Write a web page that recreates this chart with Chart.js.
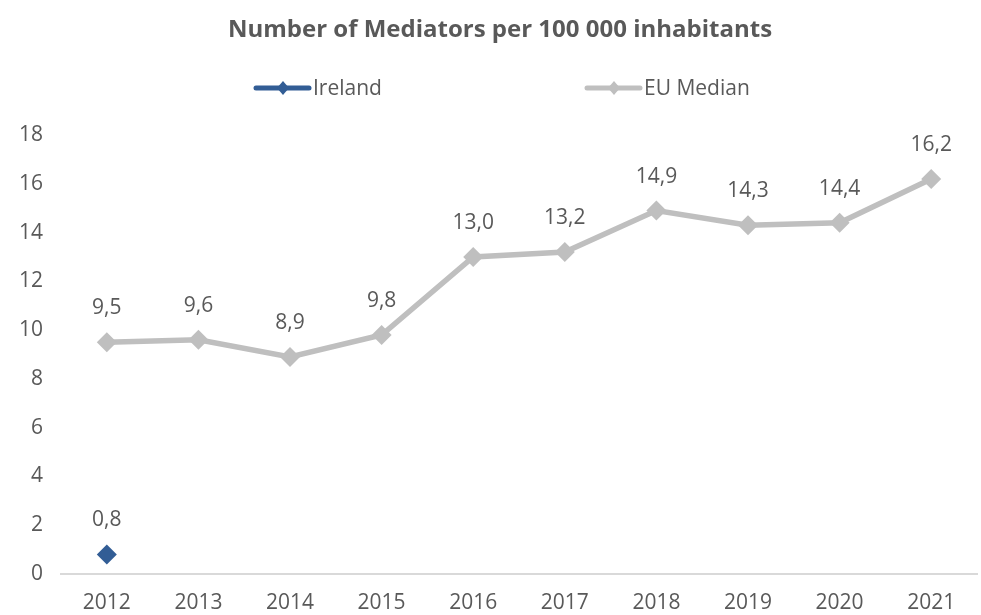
<!DOCTYPE html>
<html>
<head>
<meta charset="utf-8">
<script src="https://cdn.jsdelivr.net/npm/chart.js@4/dist/chart.umd.min.js"></script>
<style>
  html, body { margin: 0; padding: 0; background: #fff; overflow: hidden; }
  #wrap { width: 981px; height: 615px; position: relative; }
  canvas { display: block; }
</style>
</head>
<body>
<div id="wrap"><canvas id="mediatorsChart"></canvas></div>
<script>
// chart data
const years = ['2012', '2013', '2014', '2015', '2016', '2017', '2018', '2019', '2020', '2021'];
const irelandValues = [0.8, null, null, null, null, null, null, null, null, null];
const euMedianValues = [9.5, 9.6, 8.9, 9.8, 13.0, 13.2, 14.9, 14.3, 14.4, 16.2];
const yTicks = [0, 2, 4, 6, 8, 10, 12, 14, 16, 18];
const chartTitle = 'Number of Mediators per 100 000 inhabitants';

const textColor = '#595959';
const fontFamily = '"Open Sans", "Noto Sans", sans-serif';
const irelandColor = '#325d95';
const euColor = '#bfbfbf';

// labels above points, decimal comma
const pointLabels = {
  id: 'pointLabels',
  afterDatasetsDraw(chart) {
    const c = chart.ctx;
    c.save();
    c.font = '21px ' + fontFamily;
    c.fillStyle = textColor;
    c.textAlign = 'center';
    c.textBaseline = 'middle';
    chart.data.datasets.forEach((ds, i) => {
      chart.getDatasetMeta(i).data.forEach((pt, j) => {
        const v = ds.data[j];
        if (v === null || v === undefined) return;
        c.fillText(v.toFixed(1).replace('.', ','), pt.x, pt.y - 34);
      });
    });
    c.restore();
  }
};

// title and legend drawn by hand (line + diamond like the original)
const header = {
  id: 'header',
  afterDraw(chart) {
    const c = chart.ctx;
    c.save();
    c.fillStyle = textColor;
    c.textAlign = 'center';
    c.textBaseline = 'middle';
    c.font = 'bold 24px ' + fontFamily;
    c.fillText(chartTitle, 500, 30);

    const items = [
      { text: 'Ireland', color: irelandColor, x: 256 },
      { text: 'EU Median', color: euColor, x: 587 }
    ];
    items.forEach(it => {
      const y = 88;
      c.strokeStyle = it.color;
      c.fillStyle = it.color;
      c.lineWidth = 5;
      c.lineCap = 'round';
      c.beginPath();
      c.moveTo(it.x, y);
      c.lineTo(it.x + 53, y);
      c.stroke();
      const cx = it.x + 27;
      c.beginPath();
      c.moveTo(cx, y - 7);
      c.lineTo(cx + 6, y);
      c.lineTo(cx, y + 7);
      c.lineTo(cx - 6, y);
      c.closePath();
      c.fill();
      c.fillStyle = textColor;
      c.textAlign = 'left';
      c.font = '21px ' + fontFamily;
      c.fillText(it.text, it.x + 57, y + 1);
    });
    c.restore();
  }
};

new Chart(document.getElementById('mediatorsChart'), {
  type: 'line',
  data: {
    labels: years,
    datasets: [
      {
        label: 'Ireland',
        data: irelandValues,
        borderColor: irelandColor,
        backgroundColor: irelandColor,
        borderWidth: 5,
        pointStyle: 'rectRot',
        pointRadius: 10,
        pointHoverRadius: 10,
        pointBorderWidth: 0
      },
      {
        label: 'EU Median',
        data: euMedianValues,
        borderColor: euColor,
        backgroundColor: euColor,
        borderWidth: 5.5,
        tension: 0,
        pointStyle: 'rectRot',
        pointRadius: 10,
        pointHoverRadius: 10,
        pointBorderWidth: 0
      }
    ]
  },
  options: {
    responsive: true,
    maintainAspectRatio: false,
    animation: false,
    layout: { autoPadding: false, padding: { top: 135, right: 4, left: 1, bottom: 0 } },
    scales: {
      x: {
        offset: true,
        grid: { display: false, drawTicks: false },
        border: { display: true, color: '#d9d9d9', width: 2 },
        ticks: {
          color: textColor,
          font: { family: fontFamily, size: 21 },
          padding: 16,
          maxRotation: 0
        },
        afterFit(scale) {
          scale.height = 41;
        }
      },
      y: {
        min: 0,
        max: 18,
        afterBuildTicks(scale) {
          scale.ticks = yTicks.map(v => ({ value: v }));
        },
        grid: { display: false, drawTicks: false },
        border: { display: false },
        ticks: {
          color: textColor,
          font: { family: fontFamily, size: 21 },
          padding: 18
        }
      }
    },
    plugins: {
      legend: { display: false },
      title: { display: false },
      tooltip: { enabled: false }
    }
  },
  plugins: [pointLabels, header]
});
</script>
</body>
</html>
